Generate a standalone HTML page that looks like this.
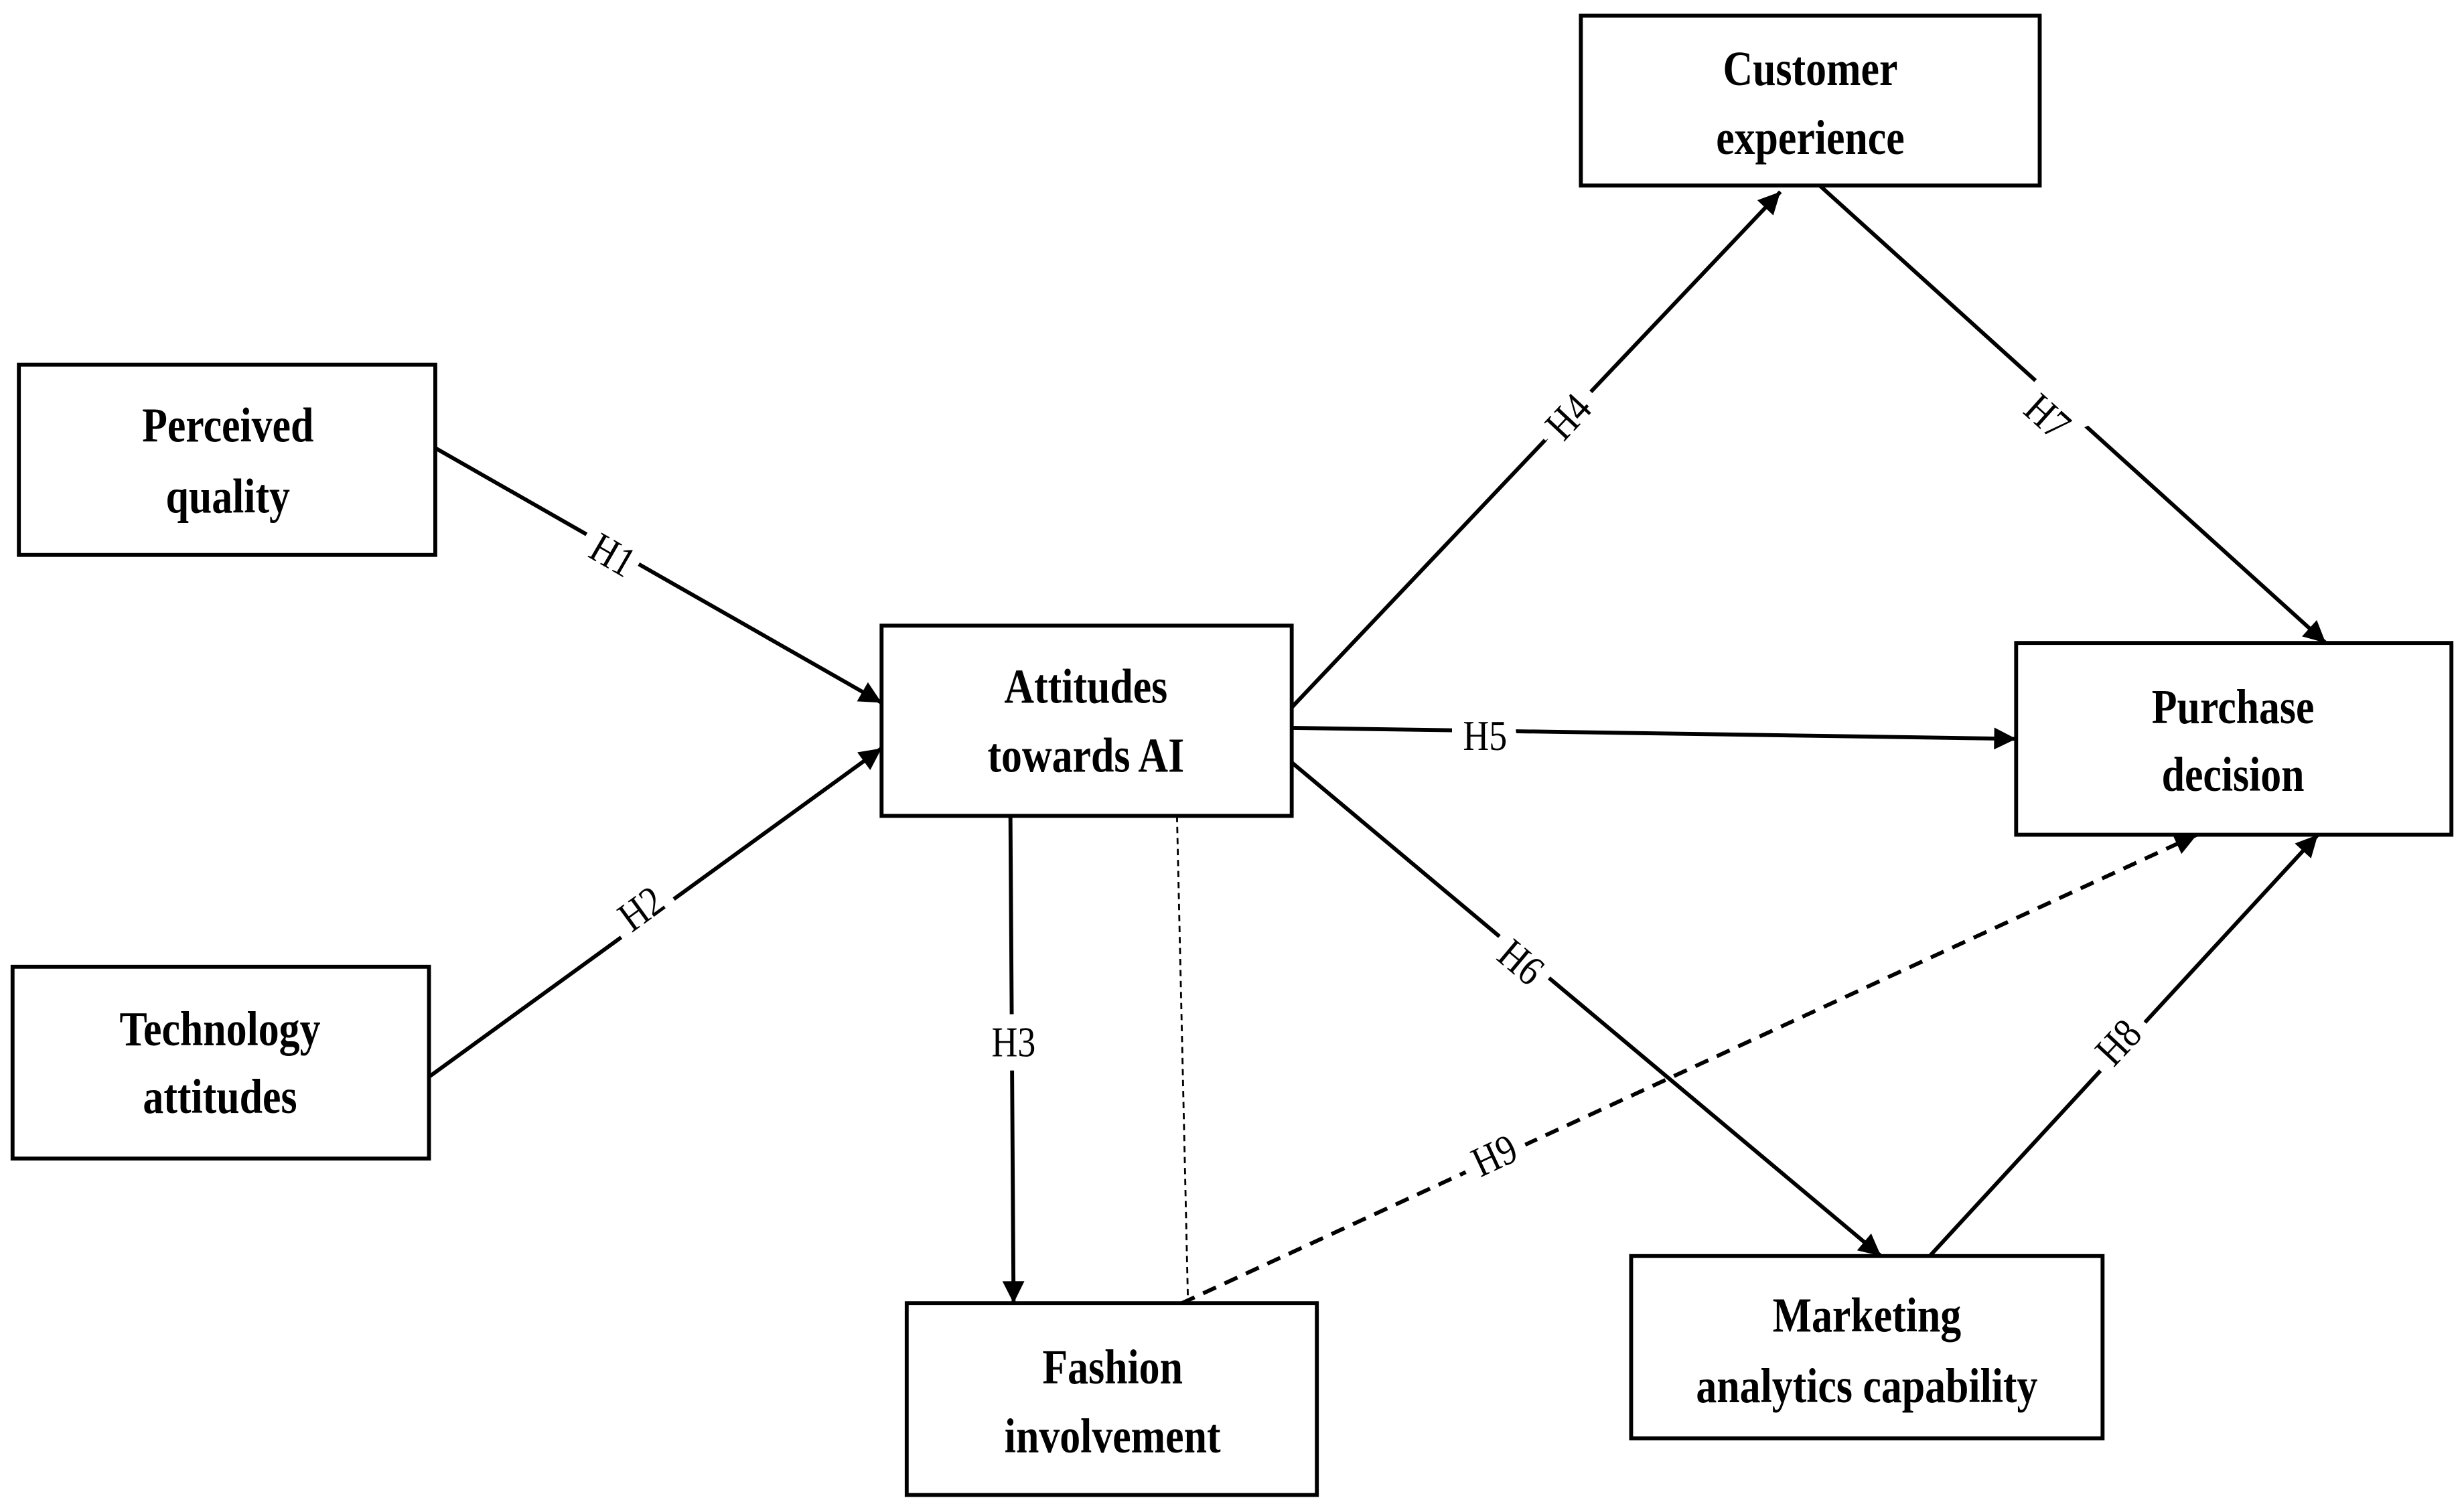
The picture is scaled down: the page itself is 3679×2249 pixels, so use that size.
<!DOCTYPE html>
<html><head><meta charset="utf-8"><style>html,body{margin:0;padding:0;background:#fff}svg{display:block}</style></head>
<body>
<svg width="3679" height="2249" viewBox="0 0 1568 958" preserveAspectRatio="none" xmlns="http://www.w3.org/2000/svg">
<defs>
<marker id="a" viewBox="0 0 10 10" refX="10" refY="5" markerWidth="7" markerHeight="7" markerUnits="userSpaceOnUse" orient="auto">
<path d="M0,0 L10,5 L0,10 z" fill="#000"/></marker>
<marker id="b" viewBox="0 0 10 10" refX="10" refY="5" markerWidth="16" markerHeight="14" markerUnits="userSpaceOnUse" orient="auto">
<path d="M0,0 L10,5 L0,10 z" fill="#000"/></marker>
</defs>
<g fill="none" stroke="#000" stroke-width="2.5">
<rect x="1006" y="10" width="292" height="108"/>
<rect x="12" y="232" width="265" height="121"/>
<rect x="561" y="398" width="261" height="121"/>
<rect x="1283" y="409" width="277" height="122"/>
<rect x="8" y="615" width="265" height="122"/>
<rect x="577" y="829" width="261" height="122"/>
<rect x="1038" y="799" width="300" height="116"/>
<line x1="277" y1="285" x2="561" y2="447" marker-end="url(#b)"/>
<line x1="273" y1="685" x2="561" y2="476" marker-end="url(#b)"/>
<line x1="822" y1="450" x2="1133" y2="122" marker-end="url(#b)"/>
<line x1="1158" y1="118" x2="1480" y2="409" marker-end="url(#b)"/>
<line x1="822" y1="463" x2="1283" y2="470" marker-end="url(#b)"/>
<line x1="643" y1="519" x2="645" y2="829" marker-end="url(#b)"/>
<line x1="822" y1="485" x2="1197" y2="799" marker-end="url(#b)"/>
<line x1="1228" y1="799" x2="1475" y2="531" marker-end="url(#b)"/>
<line x1="752" y1="829" x2="1398" y2="531" stroke-dasharray="9,6" marker-end="url(#b)"/>
<line x1="749" y1="519" x2="756" y2="829" stroke-width="1.2" stroke-dasharray="4,3"/>
</g>
<g font-family="Liberation Serif, serif" font-size="27" text-anchor="middle" fill="#000" stroke="#fff" stroke-width="18" paint-order="stroke">
<text transform="translate(390,353) rotate(30) scale(0.85,1)" dy="9">H1</text>
<text transform="translate(408,578) rotate(-36) scale(0.85,1)" dy="9">H2</text>
<text transform="translate(998,265) rotate(-47) scale(0.85,1)" dy="9">H4</text>
<text transform="translate(1303,265) rotate(42) scale(0.85,1)" dy="9">H7</text>
<text transform="translate(945,468) scale(0.85,1)" dy="9">H5</text>
<text transform="translate(645,663) scale(0.85,1)" dy="9">H3</text>
<text transform="translate(968,612) rotate(40) scale(0.85,1)" dy="9">H6</text>
<text transform="translate(951,735) rotate(-25) scale(0.85,1)" dy="9">H9</text>
<text transform="translate(1348,663) rotate(-47) scale(0.85,1)" dy="9">H8</text>
</g>
<g font-family="Liberation Serif, serif" font-size="31" font-weight="bold" text-anchor="middle" fill="#000">
<text transform="translate(1152,44) scale(0.85,1)" dy="10">Customer</text>
<text transform="translate(1152,88) scale(0.85,1)" dy="10">experience</text>
<text transform="translate(145,271) scale(0.85,1)" dy="10">Perceived</text>
<text transform="translate(145,316) scale(0.85,1)" dy="10">quality</text>
<text transform="translate(691,437) scale(0.85,1)" dy="10">Attitudes</text>
<text transform="translate(691,481) scale(0.85,1)" dy="10">towards AI</text>
<text transform="translate(1421,450) scale(0.85,1)" dy="10">Purchase</text>
<text transform="translate(1421,493) scale(0.85,1)" dy="10">decision</text>
<text transform="translate(140,655) scale(0.85,1)" dy="10">Technology</text>
<text transform="translate(140,698) scale(0.85,1)" dy="10">attitudes</text>
<text transform="translate(708,870) scale(0.85,1)" dy="10">Fashion</text>
<text transform="translate(708,914) scale(0.85,1)" dy="10">involvement</text>
<text transform="translate(1188,837) scale(0.85,1)" dy="10">Marketing</text>
<text transform="translate(1188,882) scale(0.85,1)" dy="10">analytics capability</text>
</g>
</svg>
</body></html>
